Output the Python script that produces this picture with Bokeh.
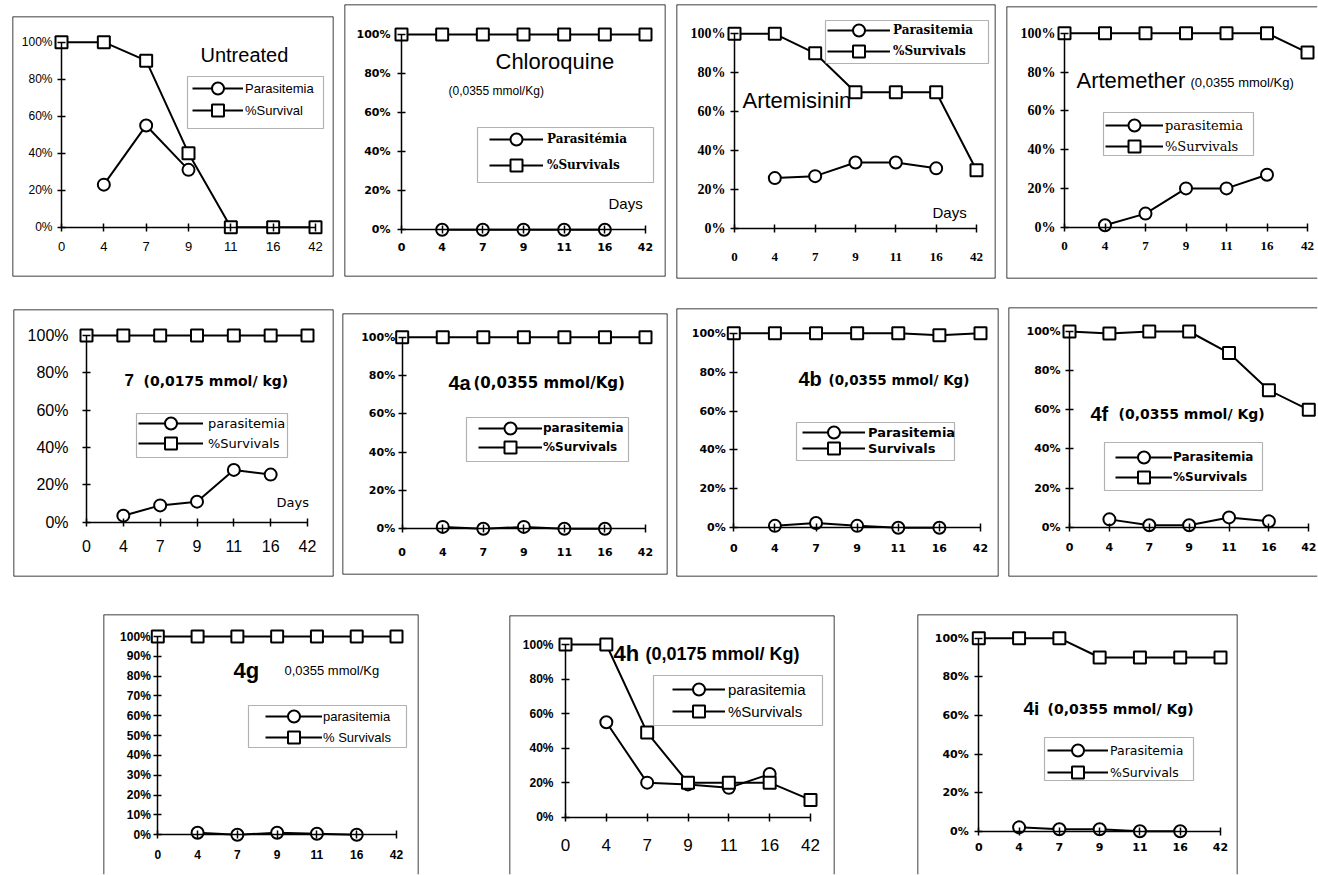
import math
from bokeh.plotting import figure
from bokeh.models import (Range1d, FixedTicker, PrintfTickFormatter, Label, Legend, LegendItem,
                          BoxAnnotation, Span, Spacer, ColumnDataSource)
from bokeh.layouts import row, column
from bokeh.embed import file_html
from bokeh.resources import INLINE

NaN = float("nan")

# ---------------- data ----------------
days = ["0", "4", "7", "9", "11", "16", "42"]

untreated_parasitemia = [NaN, 23, 55, 31, NaN, NaN, NaN]
untreated_survival = [100, 100, 90, 40, 0, 0, 0]
chloroquine_parasitemia = [NaN, 0, 0, 0, 0, 0, NaN]
chloroquine_survival = [100, 100, 100, 100, 100, 100, 100]
artemisinin_parasitemia = [NaN, 26, 27, 34, 34, 31, NaN]
artemisinin_survival = [100, 100, 90, 70, 70, 70, 30]
artemether_parasitemia = [NaN, 1, 7, 20, 20, 27, NaN]
artemether_survival = [100, 100, 100, 100, 100, 100, 90]
c7_parasitemia = [NaN, 3.5, 9, 11, 28, 25.5, NaN]
c7_survival = [100, 100, 100, 100, 100, 100, 100]
c4a_parasitemia = [NaN, 1, 0, 1, 0, 0, NaN]
c4a_survival = [100, 100, 100, 100, 100, 100, 100]
c4b_parasitemia = [NaN, 1, 2.5, 1, 0, 0, NaN]
c4b_survival = [100, 100, 100, 100, 100, 99, 100]
c4f_parasitemia = [NaN, 4, 1, 1, 5, 3, NaN]
c4f_survival = [100, 99, 100, 100, 89, 70, 60]
c4g_parasitemia = [NaN, 1, 0, 1, 0.5, 0, NaN]
c4g_survival = [100, 100, 100, 100, 100, 100, 100]
c4h_parasitemia = [NaN, 55, 20, 19, 17, 25, NaN]
c4h_survival = [100, 100, 49, 20, 20, 20, 10]
c4i_parasitemia = [NaN, 2, 1, 1, 0, 0, NaN]
c4i_survival = [100, 100, 100, 90, 90, 90, 90]

yticks20 = [0, 20, 40, 60, 80, 100]
yticks10 = [0, 10, 20, 30, 40, 50, 60, 70, 80, 90, 100]

# ---------------- layout / style specs (pixel geometry) ----------------
LS, LSR, DJ, DJS = "Liberation Sans", "Liberation Serif", "DejaVu Sans", "DejaVu Serif"
ALL = "ltrb"

panels = [
    dict(para=untreated_parasitemia, surv=untreated_survival, names=("Parasitemia", "%Survival"),
         box=(11, 15, 334, 277), ax=(61, 315, 226.7, 41.7), yt=yticks20, sides=ALL,
         yfont=(LS, 12, "normal"), xfont=(LS, 13, "normal"), ygap=9, xd=22,
         texts=[("Untreated", 200, 54, LS, 20, "normal")],
         leg=dict(box=(187, 76, 323, 128), g=(192, 243), e=(88, 110), lx=245, font=(LS, 13, "normal"))),
    dict(para=chloroquine_parasitemia, surv=chloroquine_survival, names=("Parasitémia", "%Survivals"),
         box=(343, 3, 666, 277), ax=(401, 645, 229.3, 34), yt=yticks20, sides=ALL,
         yfont=(DJ, 11, "bold"), xfont=(DJ, 11, "bold"), ygap=11, xd=19,
         texts=[("Chloroquine", 495, 61, LS, 22, "normal"), ("(0,0355 mmol/Kg)", 448, 90, LS, 12, "normal"),
                ("Days", 608, 203, LS, 15, "normal")],
         leg=dict(box=(477, 127, 653, 182), g=(489, 543), e=(139, 165), lx=547, font=(DJS, 12, "bold"))),
    dict(para=artemisinin_parasitemia, surv=artemisinin_survival, names=("Parasitemia", "%Survivals"),
         box=(675, 3, 996, 279), ax=(734, 976, 228.3, 33.3), yt=yticks20, sides=ALL,
         yfont=(LSR, 14, "bold"), xfont=(LSR, 13, "bold"), ygap=9, xd=31,
         texts=[("Artemisinin", 742, 100, LS, 22, "normal"), ("Days", 932, 212, LS, 15, "normal")],
         leg=dict(box=(825, 20, 988, 63), g=(827, 890), e=(30, 51), lx=893, font=(DJS, 12, "bold"))),
    dict(para=artemether_parasitemia, surv=artemether_survival, names=("parasitemia", "%Survivals"),
         box=(1005, 5, 1318, 279), ax=(1064, 1307, 226.7, 32.7), yt=yticks20, sides="ltb",
         yfont=(LSR, 14, "bold"), xfont=(LSR, 13, "bold"), ygap=9, xd=22,
         texts=[("Artemether", 1076, 80, LS, 22, "normal"), ("(0,0355 mmol/Kg)", 1190, 82, LS, 13, "normal")],
         leg=dict(box=(1103, 112, 1253, 155), g=(1105, 1163), e=(125, 146), lx=1165, font=(DJS, 13, "normal"))),
    dict(para=c7_parasitemia, surv=c7_survival, names=("parasitemia", "%Survivals"),
         box=(12, 308, 334, 577), ax=(86, 307, 521.7, 335), yt=yticks20, sides=ALL,
         yfont=(LS, 16, "normal"), xfont=(LS, 16, "normal"), ygap=18, xd=27,
         texts=[("7", 124, 379, LS, 17, "bold"), ("(0,0175 mmol/ kg)", 143, 380, DJ, 14, "bold"),
                ("Days", 276, 502, DJ, 13, "normal")],
         leg=dict(box=(136, 413, 287, 457), g=(138, 203), e=(423, 443), lx=208, font=(DJ, 13, "normal"))),
    dict(para=c4a_parasitemia, surv=c4a_survival, names=("parasitemia", "%Survivals"),
         box=(341, 312, 668, 575), ax=(401.7, 645, 528.3, 336.7), yt=yticks20, sides=ALL,
         yfont=(DJ, 11, "bold"), xfont=(DJ, 11, "bold"), ygap=7, xd=25,
         texts=[("4a", 448, 382, LS, 20, "bold"), ("(0,0355 mmol/Kg)", 473, 382, DJ, 15, "bold")],
         leg=dict(box=(466, 417, 628, 461), g=(478, 542), e=(428, 447), lx=543, font=(DJ, 12, "bold"))),
    dict(para=c4b_parasitemia, surv=c4b_survival, names=("Parasitemia", "Survivals"),
         box=(675, 307, 999, 577), ax=(733.3, 980, 527.3, 332.7), yt=yticks20, sides=ALL,
         yfont=(DJ, 11, "bold"), xfont=(DJ, 11, "bold"), ygap=8, xd=22,
         texts=[("4b", 798, 378, LS, 20, "bold"), ("(0,0355 mmol/ Kg)", 828, 379, DJ, 13.5, "bold")],
         leg=dict(box=(796, 422, 954, 460), g=(802, 865), e=(432, 448), lx=868, font=(DJ, 13, "bold"))),
    dict(para=c4f_parasitemia, surv=c4f_survival, names=("Parasitemia", "%Survivals"),
         box=(1007, 306, 1318, 577), ax=(1069, 1308.3, 526.7, 331), yt=yticks20, sides="ltb",
         yfont=(DJ, 11, "bold"), xfont=(DJ, 11, "bold"), ygap=9, xd=22,
         texts=[("4f", 1090, 413, LS, 20, "bold"), ("(0,0355 mmol/ Kg)", 1118, 413, DJ, 14, "bold")],
         leg=dict(box=(1104, 442, 1262, 490), g=(1115, 1172), e=(457, 477), lx=1173, font=(DJ, 12, "bold"))),
    dict(para=c4g_parasitemia, surv=c4g_survival, names=("parasitemia", "% Survivals"),
         box=(102, 613, 419, 875), ax=(157.3, 396, 834.3, 636), yt=yticks10, sides="ltr",
         yfont=(LS, 12, "bold"), xfont=(LS, 12, "bold"), ygap=7, xd=22,
         texts=[("4g", 233, 670, LS, 22, "bold"), ("0,0355 mmol/Kg", 284, 670, LS, 13, "normal")],
         leg=dict(box=(248, 705, 406, 747), g=(265, 322), e=(716, 737), lx=323, font=(LS, 13, "normal"))),
    dict(para=c4h_parasitemia, surv=c4h_survival, names=("parasitemia", "%Survivals"),
         box=(508, 614, 835, 875), ax=(565, 810, 816.7, 644), yt=yticks20, sides="ltr",
         yfont=(LS, 12, "bold"), xfont=(LS, 17, "normal"), ygap=12, xd=31,
         texts=[("4h", 613, 653, LS, 22, "bold"), ("(0,0175 mmol/ Kg)", 645, 653, LS, 18, "bold")],
         leg=dict(box=(653, 675, 822, 725), g=(672, 725), e=(689, 711), lx=728, font=(LS, 15, "normal"))),
    dict(para=c4i_parasitemia, surv=c4i_survival, names=("Parasitemia", "%Survivals"),
         box=(916, 613, 1238, 875), ax=(978.3, 1220, 830.7, 637.7), yt=yticks20, sides="ltr",
         yfont=(DJ, 11, "bold"), xfont=(DJ, 11, "bold"), ygap=10, xd=18,
         texts=[("4i", 1023, 708, LS, 19, "bold"), ("(0,0355 mmol/ Kg)", 1047, 708, DJ, 14, "bold")],
         leg=dict(box=(1044, 737, 1193, 780), g=(1047, 1108), e=(750, 772), lx=1110, font=(DJ, 12.5, "normal"))),
]

TICK = 4
LW = 2
MS = 12
GH = 30  # legend glyph height -> legend marker size 0.4*GH


def style_axis(axis, font, standoff):
    axis.axis_line_color = "black"
    axis.axis_line_width = 1.5
    axis.major_tick_line_color = "black"
    axis.major_tick_line_width = 1.5
    axis.major_tick_in = TICK
    axis.major_tick_out = TICK
    axis.minor_tick_line_color = None
    axis.major_label_text_font = font[0]
    axis.major_label_text_font_size = f"{font[1]}px"
    axis.major_label_text_font_style = font[2]
    axis.major_label_text_color = "black"
    axis.major_label_standoff = int(round(standoff))


def make_panel(s):
    L, T, R, B = s["box"]
    x0, x6, y0, y100 = s["ax"]
    W, H = R - L, B - T
    dx = (x6 - x0) / 6.0
    dy = (y0 - y100) / 100.0
    fl, fr, ft, fb = L + 1, R - 1, T + 1, B - 1
    xr = Range1d((fl - x0) / dx, 6 + (fr - x6) / dx)
    yr = Range1d(-(fb - y0) / dy, 100 + (y100 - ft) / dy)

    def X(px):
        return (px - x0) / dx

    def Y(py):
        return (y0 - py) / dy

    p = figure(width=W, height=H, x_range=xr, y_range=yr, output_backend="svg", toolbar_location=None,
               min_border_left=1, min_border_right=1, min_border_top=1, min_border_bottom=1,
               background_fill_color="white", border_fill_color="white")
    p.grid.visible = False
    p.outline_line_color = None
    edges = {"l": (xr.start, "height"), "r": (xr.end, "height"),
             "t": (yr.end, "width"), "b": (yr.start, "width")}
    for k in s["sides"]:
        loc, dim = edges[k]
        p.add_layout(Span(location=loc, dimension=dim, line_color="black", line_width=1.5))

    xa = p.xaxis[0]
    xa.fixed_location = 0
    xa.bounds = (0, 6)
    xa.ticker = FixedTicker(ticks=list(range(len(days))))
    xa.major_label_overrides = {i: d for i, d in enumerate(days)}
    fs = s["xfont"][1]
    style_axis(xa, s["xfont"], s["xd"] - TICK - 0.55 * fs)

    ya = p.yaxis[0]
    ya.fixed_location = 0
    ya.bounds = (0, 100)
    ya.ticker = FixedTicker(ticks=s["yt"])
    ya.formatter = PrintfTickFormatter(format="%d%%")
    style_axis(ya, s["yfont"], s["ygap"] - TICK)

    src = ColumnDataSource(dict(x=list(range(len(days))), para=s["para"], surv=s["surv"]))
    l1 = p.line("x", "para", source=src, line_color="black", line_width=LW)
    m1 = p.scatter("x", "para", source=src, marker="circle", size=MS, line_color="black",
                   line_width=LW, fill_color="white")
    l2 = p.line("x", "surv", source=src, line_color="black", line_width=LW)
    m2 = p.scatter("x", "surv", source=src, marker="square", size=MS, line_color="black",
                   line_width=LW, fill_color="white")

    for (txt, tx, ty, ff, fsz, fst) in s["texts"]:
        p.add_layout(Label(x=X(tx), y=Y(ty), text=txt, text_font=ff, text_font_size=f"{fsz}px",
                           text_font_style=fst, text_color="black", text_align="left",
                           text_baseline="middle"))

    lg = s["leg"]
    bx1, by1, bx2, by2 = lg["box"]
    p.add_layout(BoxAnnotation(left=X(bx1), right=X(bx2), top=Y(by1), bottom=Y(by2),
                               line_color="black", line_width=1.2, fill_color="white", fill_alpha=1.0))
    gx1, gx2 = lg["g"]
    gw = gx2 - gx1
    for name, rends, ey in ((s["names"][0], [l1, m1], lg["e"][0]), (s["names"][1], [l2, m2], lg["e"][1])):
        legend = Legend(
            items=[LegendItem(label=name, renderers=rends)],
            location=(gx1 - fl, fb - (ey + GH / 2.0)),
            orientation="vertical", padding=0, margin=0, spacing=0,
            glyph_width=gw, glyph_height=GH, label_height=GH, label_width=10,
            label_standoff=max(0, lg["lx"] - gx2),
            border_line_color=None, background_fill_alpha=0.0,
            label_text_font=lg["font"][0], label_text_font_size=f"{lg['font'][1]}px",
            label_text_font_style=lg["font"][2], label_text_color="black",
        )
        p.add_layout(legend)
    return p, T


figs = [make_panel(s) for s in panels]


def cell(fig_top, row_top):
    fig, top = fig_top
    off = top - row_top
    if off > 0:
        return column(Spacer(width=fig.width, height=off), fig)
    return fig


def hrow(idx, row_top):
    kids = []
    x = 0
    for i in idx:
        f = figs[i]
        L = panels[i]["box"][0]
        if L - x > 0:
            kids.append(Spacer(width=L - x, height=1))
        kids.append(cell(f, row_top))
        x = L + f[0].width
    return row(*kids)


row1 = hrow([0, 1, 2, 3], 3)
row2 = hrow([4, 5, 6, 7], 306)
row3 = hrow([8, 9, 10], 613)

layout = column(Spacer(width=1, height=3), row1, Spacer(width=1, height=306 - 279), row2,
                Spacer(width=1, height=613 - 577), row3)

open("out.html", "w").write(file_html(layout, INLINE, title="Parasitemia and survival"))
